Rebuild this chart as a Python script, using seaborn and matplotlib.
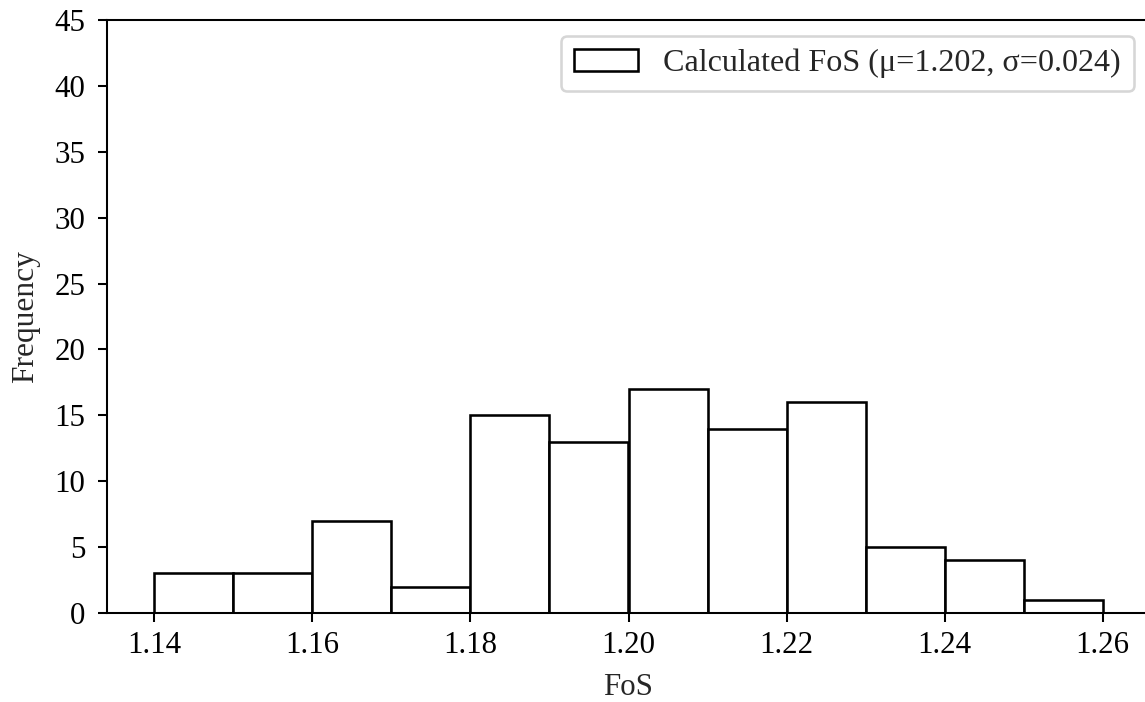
import numpy as np
import pandas as pd
import matplotlib
matplotlib.use("Agg")
import matplotlib.pyplot as plt
import seaborn as sns

# Data
bin_edges = [1.14, 1.15, 1.16, 1.17, 1.18, 1.19, 1.20, 1.21, 1.22, 1.23, 1.24, 1.25, 1.26]
counts = [3, 3, 7, 2, 15, 13, 17, 14, 16, 5, 4, 1]
legend_label = "Calculated FoS (μ=1.202, σ=0.024)"
x_ticks = [1.14, 1.16, 1.18, 1.20, 1.22, 1.24, 1.26]
y_ticks = [0, 5, 10, 15, 20, 25, 30, 35, 40, 45]

sns.set_style("ticks")
plt.rcParams["font.family"] = ["Liberation Serif", "DejaVu Serif"]
plt.rcParams["axes.linewidth"] = 0.8

edges = np.array(bin_edges)
centers = (edges[:-1] + edges[1:]) / 2
df = pd.DataFrame({"FoS": centers, "count": counts})

DPI = 185
fig = plt.figure(figsize=(1145 / DPI, 702 / DPI), dpi=DPI)
ax = fig.add_axes([107 / 1145, 89 / 702, 1043 / 1145, 593 / 702])

sns.histplot(data=df, x="FoS", weights="count", bins=list(bin_edges), ax=ax,
             color="white", edgecolor="black", linewidth=1.0, alpha=1,
             label=legend_label)

ax.set_xlim(1.134, 1.266)
ax.set_ylim(0, 45)
ax.set_xticks(x_ticks)
ax.set_xticklabels([f"{t:.2f}" for t in x_ticks])
ax.set_yticks(y_ticks)
ax.tick_params(axis="both", labelsize=12, length=3.5, width=0.8, pad=3.5, colors="black")
ax.tick_params(axis="y", pad=5)
ax.set_xlabel("FoS", fontsize=12, labelpad=5)
ax.set_ylabel("Frequency", fontsize=12.2, labelpad=5.5)
for s in ax.spines.values():
    s.set_visible(True)
    s.set_color("black")
    s.set_linewidth(0.8)

ax.legend(loc="upper right", fontsize=12.5, frameon=True, fancybox=True,
          edgecolor="0.8")

fig.savefig("out.png", dpi=DPI)
